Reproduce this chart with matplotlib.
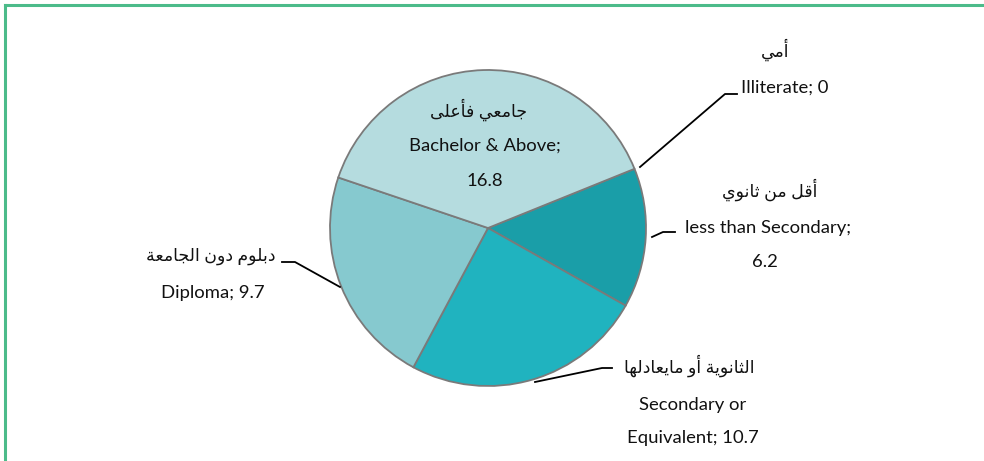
#!/usr/bin/env python3
"""Pie chart of education levels (Arabic / English labels)."""

import matplotlib

matplotlib.use("Agg")
import matplotlib.pyplot as plt
from matplotlib.lines import Line2D

plt.rcParams["font.family"] = ["Lato", "DejaVu Sans"]

# data, in the order the slices run clockwise from the "Illiterate" edge
labels_en = ["Illiterate", "less than Secondary", "Secondary or\nEquivalent", "Diploma", "Bachelor & Above"]
labels_ar = ["أمي", "أقل من ثانوي", "الثانوية أو مايعادلها", "دبلوم دون الجامعة", "جامعي فأعلى"]
values = [0, 6.2, 10.7, 9.7, 16.8]
colors = ["#1a9ea8", "#1a9ea8", "#20b3bf", "#86c9cf", "#b5dcdf"]

# --- minimal Arabic shaping: presentation forms + visual (RTL) order ---
# letter: (isolated, final, initial, medial); 2-tuple means right-joining only
FORMS = {
    "ا": ("\ufe8d", "\ufe8e"), "أ": ("\ufe83", "\ufe84"),
    "ب": ("\ufe8f", "\ufe90", "\ufe91", "\ufe92"), "ة": ("\ufe93", "\ufe94"),
    "ث": ("\ufe99", "\ufe9a", "\ufe9b", "\ufe9c"), "ج": ("\ufe9d", "\ufe9e", "\ufe9f", "\ufea0"),
    "د": ("\ufea9", "\ufeaa"), "ع": ("\ufec9", "\ufeca", "\ufecb", "\ufecc"),
    "ف": ("\ufed1", "\ufed2", "\ufed3", "\ufed4"), "ق": ("\ufed5", "\ufed6", "\ufed7", "\ufed8"),
    "ل": ("\ufedd", "\ufede", "\ufedf", "\ufee0"), "م": ("\ufee1", "\ufee2", "\ufee3", "\ufee4"),
    "ن": ("\ufee5", "\ufee6", "\ufee7", "\ufee8"), "ه": ("\ufee9", "\ufeea", "\ufeeb", "\ufeec"),
    "و": ("\ufeed", "\ufeee"), "ى": ("\ufeef", "\ufef0"),
    "ي": ("\ufef1", "\ufef2", "\ufef3", "\ufef4"),
}


def shape_ar(text):
    out = []
    for i, ch in enumerate(text):
        forms = FORMS.get(ch)
        if forms is None:
            out.append(ch)
            continue
        prev = text[i - 1] if i > 0 else ""
        nxt = text[i + 1] if i + 1 < len(text) else ""
        join_prev = prev in FORMS and len(FORMS[prev]) == 4
        join_next = nxt in FORMS and len(forms) == 4
        if join_prev and join_next:
            out.append(forms[3])
        elif join_prev:
            out.append(forms[1])
        elif join_next:
            out.append(forms[2])
        else:
            out.append(forms[0])
    return "".join(reversed(out))


W, H = 984, 461
fig = plt.figure(figsize=(W / 100, H / 100), dpi=100)
ax = fig.add_axes([0, 0, 1, 1])

# pixel coords (from top) -> data coords
def py(y):
    return H - y

ax.pie(
    values,
    colors=colors,
    startangle=22,
    counterclock=False,
    center=(488, py(228)),
    radius=158,
    wedgeprops=dict(edgecolor="#7a7a7a", linewidth=1.3),
    frame=True,
)
ax.set_xlim(0, W)
ax.set_ylim(0, H)
ax.axis("off")

en = dict(ha="center", va="center", fontsize=13.3, color="#111111")
ar = dict(ha="center", va="center", fontsize=12.5, color="#111111")

ax.text(775, py(50), shape_ar(labels_ar[0]), **ar)
ax.text(785, py(88), f"{labels_en[0]}; {values[0]:g}", **en)

ax.text(770, py(190), shape_ar(labels_ar[1]), **ar)
ax.text(768, py(228), f"{labels_en[1]};", **en)
ax.text(765, py(262), f"{values[1]:g}", **en)

ax.text(689, py(366), shape_ar(labels_ar[2]), **ar)
first, second = labels_en[2].split("\n")
ax.text(693, py(405), first, **en)
ax.text(693, py(438), f"{second}; {values[2]:g}", **en)

ax.text(211, py(256), shape_ar(labels_ar[3]), **ar)
ax.text(213, py(293), f"{labels_en[3]}; {values[3]:g}", **en)

ax.text(478, py(110), shape_ar(labels_ar[4]), **ar)
ax.text(485, py(146), f"{labels_en[4]};", **en)
ax.text(485, py(181), f"{values[4]:g}", **en)

# leader lines
lead = dict(color="black", linewidth=1.3)
leaders = [
    [(640, 167), (725, 94), (737, 94)],
    [(652, 237), (663, 232), (675, 232)],
    [(535, 382), (602, 368), (612, 368)],
    [(340, 287), (295, 262), (282, 262)],
]
for pts in leaders:
    ax.plot([p[0] for p in pts], [py(p[1]) for p in pts], **lead)

# green frame (left and top edges visible)
fig.add_artist(Line2D([5 / W, 5 / W], [0, 1 - 5.5 / H], color="#4cbb8a", linewidth=2.2))
fig.add_artist(Line2D([5 / W, 1], [1 - 5.5 / H, 1 - 5.5 / H], color="#4cbb8a", linewidth=2.2))

fig.savefig("out.png", dpi=100, facecolor="white")
